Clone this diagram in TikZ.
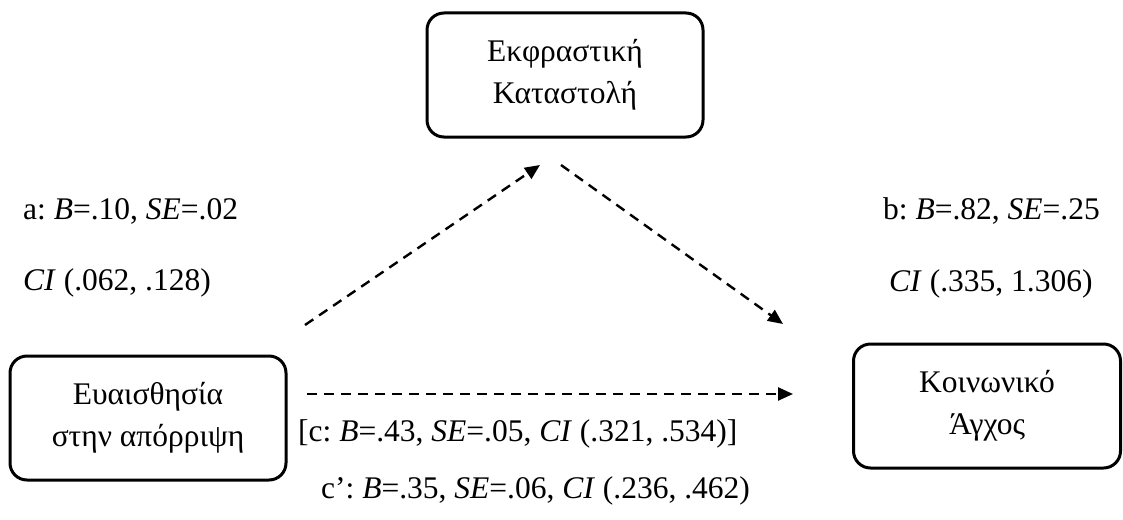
\documentclass[tikz,border=0pt]{standalone}
\usepackage{fontspec}
\setmainfont{Liberation Serif}
\usetikzlibrary{arrows.meta}
\frenchspacing
\begin{document}
\begin{tikzpicture}[x=1pt,y=-1pt,
  box/.style={draw, line width=3pt, rounded corners=17pt, minimum width=276pt, minimum height=124pt, align=center, inner sep=0pt, font=\fontsize{31.5}{42}\selectfont},
  lbl/.style={font=\fontsize{31.5}{36}\selectfont\frenchspacing, inner sep=0pt},
  dasharrow/.style={line width=2.4pt, dash pattern=on 10pt off 7pt, -{Triangle[length=15pt,width=13pt]}}]
\useasboundingbox (0,0) rectangle (1123,519);
\node[box] (med) at (565,75) {Εκφραστική\\Καταστολή};
\node[box] (x) at (148,418) {Ευαισθησία\\στην απόρριψη};
\node[box, minimum width=267pt] (y) at (987,406) {Κοινωνικό\\Άγχος};
\coordinate (a1) at (305,325);
\coordinate (a2) at (540,165);
\coordinate (b1) at (561,165);
\coordinate (b2) at (783,324);
\coordinate (c1) at (307,394);
\coordinate (c2) at (793,394);
\draw[dasharrow] (a1) -- (a2);
\draw[dasharrow] (b1) -- (b2);
\draw[dasharrow] (c1) -- (c2);
\node[lbl, anchor=base west] (la1) at (23,219) {a: \textit{B}=.10, \textit{SE}=.02};
\node[lbl, anchor=base west] (la2) at (23,290) {\textit{CI} (.062, .128)};
\node[lbl, anchor=base west] (lb1) at (883,219) {b: \textit{B}=.82, \textit{SE}=.25};
\node[lbl, anchor=base west] (lb2) at (889,291) {\textit{CI} (.335, 1.306)};
\node[lbl, anchor=base west] (lc) at (298,441) {[c: \textit{B}=.43, \textit{SE}=.05, \textit{CI} (.321, .534)]};
\node[lbl, anchor=base west] (lcp) at (321,498) {c’: \textit{B}=.35, \textit{SE}=.06, \textit{CI} (.236, .462)};
\end{tikzpicture}
\end{document}
